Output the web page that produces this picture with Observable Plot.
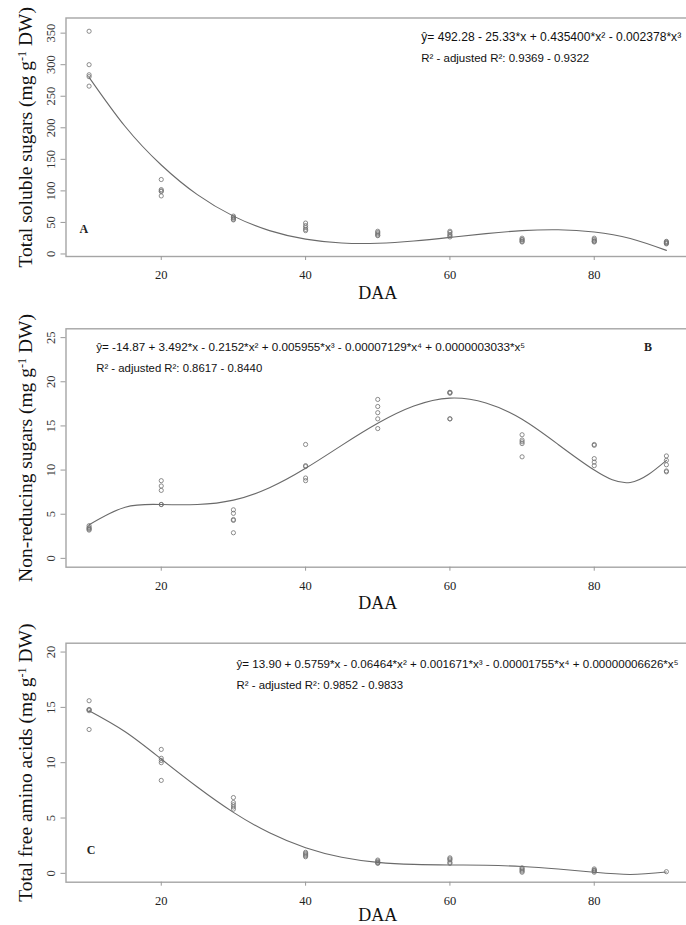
<!DOCTYPE html>
<html><head><meta charset="utf-8">
<script src="https://cdn.jsdelivr.net/npm/d3@7"></script>
<script src="https://cdn.jsdelivr.net/npm/@observablehq/plot@0.6"></script>
<style>
html,body{margin:0;padding:0;background:#fff;overflow:hidden}
#wrap{width:686px;height:925px;overflow:hidden;position:relative;background:#fff}
#wrap svg{position:absolute;left:0;display:block;background:none}
</style></head><body><div id="wrap"></div>
<script>
// ---------- data ----------
const xTicks = [20, 40, 60, 80];
const fitX = [10, 15, 20, 25, 30, 35, 40, 45, 50, 55, 60, 65, 70, 75, 80, 85, 90];

// Panel A: total soluble sugars
const tssX = [10,10,10,10,10, 20,20,20,20,20, 30,30,30,30,30, 40,40,40,40,40, 50,50,50,50,50, 60,60,60,60,60, 70,70,70,70,70, 80,80,80,80,80, 90,90,90,90,90];
const tssY = [353,300,284,281,266, 118,102,100,99,92, 60,58,57,55,54, 49,45,42,39,37, 36,34,32,30,29, 36,34,31,29,27, 25,23,22,20,19, 25,23,21,20,19, 20,19,18,17,16];
const tssFit = [280, 202, 141, 94, 60, 37, 23.5, 17.4, 17, 20.6, 26.3, 32.3, 37, 38.4, 34.9, 24.6, 5.7];
const tssTicks = [0, 50, 100, 150, 200, 250, 300, 350];

// Panel B: non-reducing sugars
const nrsX = [10,10,10,10,10, 20,20,20,20,20, 30,30,30,30,30, 40,40,40,40,40, 50,50,50,50,50, 60,60,60,60,60, 70,70,70,70,70, 80,80,80,80,80, 90,90,90,90,90];
const nrsY = [3.7,3.5,3.4,3.3,3.2, 8.8,8.2,7.7,6.1,6.1, 5.5,5.1,4.4,4.3,2.9, 12.9,10.5,10.4,9.1,8.8, 18.0,17.2,16.5,15.8,14.7, 18.8,18.8,18.7,15.8,15.8, 14.0,13.4,13.2,13.0,11.5, 12.9,12.8,11.3,10.9,10.5, 11.6,11.1,10.6,9.9,9.8];
const nrsFit = [3.8, 5.8, 6.1, 6.1, 6.6, 8.0, 10.2, 12.8, 15.3, 17.25, 18.15, 17.6, 15.75, 12.9, 10.0, 8.6, 11.1];
const nrsTicks = [0, 5, 10, 15, 20, 25];

// Panel C: total free amino acids
const faaX = [10,10,10,10,10, 20,20,20,20,20, 30,30,30,30,30, 40,40,40,40,40, 50,50,50,50,50, 60,60,60,60,60, 70,70,70,70,70, 80,80,80,80,80, 90];
const faaY = [15.6,14.8,14.8,14.7,13.0, 11.2,10.4,10.2,10.0,8.4, 6.85,6.4,6.2,6.0,5.8, 1.9,1.8,1.7,1.6,1.5, 1.2,1.1,1.0,0.95,0.9, 1.4,1.3,1.2,1.0,0.9, 0.5,0.4,0.3,0.2,0.1, 0.4,0.3,0.25,0.2,0.1, 0.15];
const faaFit = [14.7, 12.8, 10.33, 7.8, 5.51, 3.66, 2.31, 1.45, 0.99, 0.81, 0.76, 0.73, 0.62, 0.39, 0.10, -0.10, 0.12];
const faaTicks = [0, 5, 10, 15, 20];

const titles = ["Total soluble sugars (mg g-1 DW)", "Non-reducing sugars (mg g-1 DW)", "Total free amino acids (mg g-1 DW)"];
const equations = [
  "ŷ= 492.28 - 25.33*x + 0.435400*x² - 0.002378*x³",
  "ŷ= -14.87 + 3.492*x - 0.2152*x² + 0.005955*x³ - 0.00007129*x⁴ + 0.0000003033*x⁵",
  "ŷ= 13.90 + 0.5759*x - 0.06464*x² + 0.001671*x³ - 0.00001755*x⁴ + 0.00000006626*x⁵"
];
const r2Labels = [
  "R² - adjusted R²: 0.9369 - 0.9322",
  "R² - adjusted R²: 0.8617 - 0.8440",
  "R² - adjusted R²: 0.9852 - 0.9833"
];
const tags = ["A", "B", "C"];
const xLabel = "DAA";

// ---------- drawing ----------
const SERIF = "'Liberation Serif', 'Times New Roman', serif";
const NARROW = "'Liberation Sans Narrow', 'Arial Narrow', 'Liberation Sans', Arial, sans-serif";

function panel(cfg) {
  const W = 692;
  const pts = cfg.px.map((x, i) => ({x, y: cfg.py[i]}));
  const fit = fitX.map((x, i) => ({x, y: cfg.fit[i]}));
  const svg = Plot.plot({
    width: W, height: cfg.height,
    marginTop: cfg.mt, marginBottom: cfg.mb, marginLeft: 65.5, marginRight: 3,
    x: {domain: [6.8, 93.2]},
    y: {domain: cfg.yDomain},
    style: {fontFamily: SERIF, background: "none", color: "#222"},
    marks: [
      Plot.frame({stroke: "#a5a5a5", strokeWidth: 1.4}),
      Plot.axisX(xTicks, {tickSize: 4, tickPadding: 10, fontSize: 12.5, stroke: "#999", fill: "#222", label: null}),
      Plot.axisY(cfg.yTicks, {tickSize: 5, tickRotate: -90, tickPadding: 6, fontSize: 12.5, stroke: "#999", fill: "#333", label: null}),
      Plot.line(fit, {x: "x", y: "y", curve: "natural", stroke: "#6a6a6a", strokeWidth: 1.1}),
      Plot.dot(pts, {x: "x", y: "y", r: 2.1, stroke: "#707070", strokeWidth: 0.8, fill: "none"}),
      Plot.text([cfg.title], {text: d => d, frameAnchor: "left", rotate: -90, dx: -40.5, textAnchor: "middle", lineAnchor: "middle", fontSize: 19.5, fontFamily: SERIF, fill: "#111"}),
      Plot.text([xLabel], {text: d => d, frameAnchor: "bottom", dy: cfg.daaDy, lineAnchor: "middle", fontSize: 18, fontFamily: SERIF, fill: "#111"}),
      Plot.text([cfg.eq], {text: d => d, frameAnchor: "top-left", dx: cfg.eqDx, dy: cfg.eqDy, textAnchor: "start", lineAnchor: "middle", fontSize: 12, fontFamily: NARROW, fill: "#111"}),
      Plot.text([cfg.r2], {text: d => d, frameAnchor: "top-left", dx: cfg.eqDx, dy: cfg.r2Dy, textAnchor: "start", lineAnchor: "middle", fontSize: 12, fontFamily: NARROW, fill: "#111"}),
      Plot.text([cfg.tag], {text: d => d, frameAnchor: cfg.tagAnchor, dx: cfg.tagDx, dy: cfg.tagDy, textAnchor: "middle", lineAnchor: "middle", fontSize: 12, fontWeight: "bold", fontFamily: SERIF, fill: "#222"})
    ]
  });
  // clip the right side like the reference (frame's right edge falls outside the picture)
  svg.setAttribute("width", 686);
  svg.setAttribute("viewBox", `0 0 686 ${cfg.height}`);
  svg.style.maxWidth = "none";
  svg.style.top = cfg.top + "px";
  document.getElementById("wrap").appendChild(svg);

  d3.select(svg).selectAll("text").each(function() {
    const t = this.textContent;
    let target = null;
    if (t === cfg.eq) target = cfg.eqLen;
    if (t === cfg.r2) target = cfg.r2Len;
    if (target) {
      const natural = this.getComputedTextLength();
      const fs = 12 * target / natural;
      d3.select(this).attr("font-size", fs).style("font-size", fs + "px");
      d3.select(this).attr("textLength", target).attr("lengthAdjust", "spacingAndGlyphs");
    }
    if (t === cfg.title) {
      const el = d3.select(this);
      const parts = t.split("-1");
      el.text(null);
      el.append("tspan").text(parts[0]);
      el.append("tspan").attr("dy", "-0.45em").attr("font-size", "0.62em").text("-1");
      el.append("tspan").attr("dy", "0.28em").text(parts[1]);
    }
  });
}

panel({top: 0, height: 312, mt: 17.5, mb: 56, yDomain: [-4, 374], yTicks: tssTicks,
  px: tssX, py: tssY, fit: tssFit, title: titles[0], eq: equations[0], r2: r2Labels[0],
  eqDx: 355.2, eqDy: 19.5, r2Dy: 40.5, eqLen: 260, r2Len: 168, daaDy: 36.5,
  tag: tags[0], tagAnchor: "bottom-left", tagDx: 17.8, tagDy: -27});
panel({top: 300, height: 318, mt: 28.3, mb: 51.3, yDomain: [-1, 26], yTicks: nrsTicks,
  px: nrsX, py: nrsY, fit: nrsFit, title: titles[1], eq: equations[1], r2: r2Labels[1],
  eqDx: 30.2, eqDy: 18.4, r2Dy: 40, eqLen: 429, r2Len: 166, daaDy: 36.5,
  tag: tags[1], tagAnchor: "top-left", tagDx: 582, tagDy: 18.4});
panel({top: 610, height: 315, mt: 32.7, mb: 43.3, yDomain: [-0.8, 20.8], yTicks: faaTicks,
  px: faaX, py: faaY, fit: faaFit, title: titles[2], eq: equations[2], r2: r2Labels[2],
  eqDx: 170.5, eqDy: 20.6, r2Dy: 42.3, eqLen: 442, r2Len: 166.5, daaDy: 33.5,
  tag: tags[2], tagAnchor: "bottom-left", tagDx: 25.2, tagDy: -32});
</script></body></html>
